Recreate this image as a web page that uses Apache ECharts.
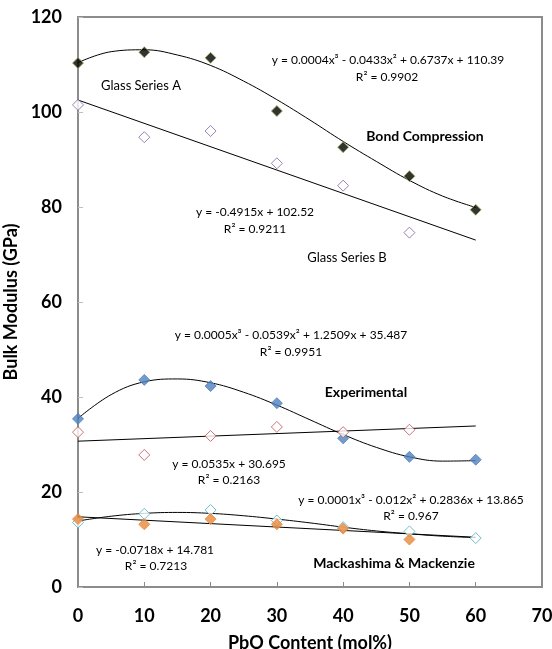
<!DOCTYPE html>
<html>
<head>
<meta charset="utf-8">
<script src="https://cdn.jsdelivr.net/npm/echarts@6/dist/echarts.min.js"></script>
<style>
  html, body { margin: 0; padding: 0; background: #fff; }
  #main { width: 552px; height: 649px; }
</style>
</head>
<body>
<div id="main"></div>
<script>
var myChart = echarts.init(document.getElementById('main'));

// PbO content (mol%)
var pbo = [0, 10, 20, 30, 40, 50, 60];

// measured points
var glassA = [110.3, 112.6, 111.4, 100.2, 92.6, 86.5, 79.4];
var glassB = [101.5, 94.7, 96.0, 89.2, 84.5, 74.6];
var experimental = [35.4, 43.6, 42.3, 38.7, 31.3, 27.4, 26.8];
var experimentalOpen = [32.6, 27.8, 31.8, 33.7, 32.6, 33.1];
var mackOpen = [13.6, 15.4, 16.2, 14.0, 12.6, 11.7, 10.3];
var mackFilled = [14.3, 13.2, 14.3, 13.2, 12.3, 10.0];

// trendlines
var fitX = [0, 5, 10, 15, 20, 25, 30, 35, 40, 45, 50, 55, 60];
var fitGlassA = [110.4, 112.7, 113.1, 112.0, 109.8, 106.5, 102.6, 98.3, 93.8, 89.6, 85.6, 82.3, 79.9];
var fitExperimental = [35.5, 40.5, 43.2, 43.8, 43.0, 41.0, 38.3, 35.2, 32.1, 29.4, 27.4, 26.5, 26.6];
var fitMackOpen = [13.9, 14.9, 15.5, 15.7, 15.5, 15.0, 14.3, 13.5, 12.6, 11.8, 11.2, 10.7, 10.4];
var lineX = [0, 60];
var fitGlassB = [102.52, 73.03];
var fitExperimentalOpen = [30.70, 33.90];
var fitMackFilled = [14.78, 10.47];

// axis ticks
var xTicks = { min: 0, max: 70, interval: 10 };
var yTicks = { min: 0, max: 120, interval: 20 };

function pairs(xs, ys) {
    return ys.map(function (y, i) { return [xs[i], y]; });
}

function points(name, ys, fill, stroke) {
    return {
        name: name,
        type: 'scatter',
        symbol: 'diamond',
        symbolSize: 11,
        data: pairs(pbo, ys),
        itemStyle: { color: fill, borderColor: stroke, borderWidth: 1 },
        z: 3
    };
}

function trend(ys, xs) {
    return {
        type: 'line',
        data: pairs(xs, ys),
        smooth: xs.length > 2 ? 0.4 : false,
        showSymbol: false,
        symbol: 'none',
        lineStyle: { color: '#000', width: 1 },
        silent: true,
        z: 2
    };
}

var textFont = 'Lato, "Open Sans", sans-serif';

function note(x, y, str, bold, size) {
    return {
        type: 'text',
        x: x,
        y: y,
        style: {
            text: str,
            align: 'center',
            verticalAlign: 'middle',
            fontFamily: textFont,
            fontSize: size || (bold ? 14 : 12),
            fontWeight: bold ? 'bold' : 'normal',
            fill: '#000'
        },
        z: 10
    };
}

option = {
    backgroundColor: '#fff',
    animation: false,
    grid: {
        left: 78,
        top: 17,
        right: 10,
        bottom: 62,
        outerBoundsMode: 'none',
        show: true,
        borderColor: '#8c8c8c',
        borderWidth: 2
    },
    xAxis: {
        type: 'value',
        min: xTicks.min,
        max: xTicks.max,
        interval: xTicks.interval,
        name: 'PbO Content (mol%)',
        nameLocation: 'middle',
        nameGap: 47,
        nameTextStyle: { fontFamily: textFont, fontSize: 18, fontWeight: 'bold', color: '#000' },
        axisLine: { onZero: false, lineStyle: { color: '#8c8c8c', width: 2 } },
        axisTick: { inside: true, length: 5, lineStyle: { color: '#8c8c8c' } },
        axisLabel: { margin: 20, fontFamily: textFont, fontSize: 18, fontWeight: 'bold', color: '#000' },
        splitLine: { show: false }
    },
    yAxis: {
        type: 'value',
        min: yTicks.min,
        max: yTicks.max,
        interval: yTicks.interval,
        name: 'Bulk Modulus (GPa)',
        nameLocation: 'middle',
        nameGap: 45,
        nameTextStyle: { fontFamily: textFont, fontSize: 18, fontWeight: 'bold', color: '#000' },
        axisLine: { onZero: false, lineStyle: { color: '#8c8c8c', width: 2 } },
        axisTick: { inside: true, length: 5, lineStyle: { color: '#bfbfbf' } },
        axisLabel: { margin: 16, fontFamily: textFont, fontSize: 18, fontWeight: 'bold', color: '#000' },
        splitLine: { show: false }
    },
    series: [
        trend(fitGlassA, fitX),
        trend(fitGlassB, lineX),
        trend(fitExperimental, fitX),
        trend(fitExperimentalOpen, lineX),
        trend(fitMackOpen, fitX),
        trend(fitMackFilled, lineX),
        points('Glass Series A', glassA, '#000', '#9bbb59'),
        points('Glass Series B', glassB, '#fff', '#8064a2'),
        points('Experimental', experimental, '#4f81bd', '#4f81bd'),
        points('Experimental (open)', experimentalOpen, '#fff', '#c0504d'),
        points('Mackashima & Mackenzie (open)', mackOpen, '#fff', '#4bacc6'),
        points('Mackashima & Mackenzie', mackFilled, '#e8883a', '#e8883a')
    ],
    graphic: [
        note(388, 60, 'y = 0.0004x³ - 0.0433x² + 0.6737x + 110.39'),
        note(387, 77, 'R² = 0.9902'),
        note(141, 86, 'Glass Series A', false, 13),
        note(425, 136, 'Bond Compression', true),
        note(255, 212, 'y = -0.4915x + 102.52'),
        note(255, 229, 'R² = 0.9211'),
        note(347, 258, 'Glass Series B', false, 13),
        note(291, 335, 'y = 0.0005x³ - 0.0539x² + 1.2509x + 35.487'),
        note(291, 352, 'R² = 0.9951'),
        note(366, 392, 'Experimental', true),
        note(229, 464, 'y = 0.0535x + 30.695'),
        note(229, 480, 'R² = 0.2163'),
        note(411, 500, 'y = 0.0001x³ - 0.012x² + 0.2836x + 13.865'),
        note(411, 516, 'R² = 0.967'),
        note(155, 550, 'y = -0.0718x + 14.781'),
        note(156, 566, 'R² = 0.7213'),
        note(394, 563, 'Mackashima & Mackenzie', true)
    ]
};

myChart.setOption(option);
</script>
</body>
</html>
